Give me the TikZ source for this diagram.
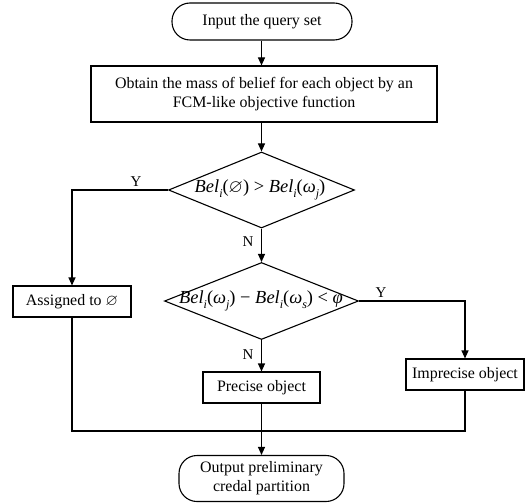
\documentclass[tikz,border=0pt]{standalone}
\usepackage{amssymb}
\usepackage{fontspec}
\setmainfont{Liberation Serif}
\usetikzlibrary{shapes.geometric,arrows.meta}
\newcommand{\mysub}[1]{\raisebox{-0.28em}{\fontsize{12}{12}\selectfont\textit{#1}}}
\newcommand{\mybel}[1]{\textit{Bel}\mysub{i}(#1)}
\newcommand{\myrel}[1]{\hspace{0.25em}#1\hspace{0.25em}}
\begin{document}
\begin{tikzpicture}[x=1bp,y=-1bp,
  line width=1.1bp,
  every node/.style={font=\fontsize{16}{19}\selectfont},
  term/.style={draw, rectangle, rounded corners=18bp, inner sep=0pt, align=center},
  proc/.style={draw, rectangle, inner sep=0pt, align=center},
  dec/.style={draw, diamond, inner sep=0pt},
  form/.style={font=\fontsize{18.5}{20}\selectfont, inner sep=0pt},
  arr/.style={-{Triangle[length=8bp,width=7bp]}},
  lab/.style={font=\fontsize{15}{17}\selectfont, inner sep=0pt}
]
\useasboundingbox (0,0) rectangle (531,504);

\node[term, minimum width=180bp, minimum height=37bp] (t1) at (262,21.5) {Input the query set};
\node[proc, minimum width=346bp, minimum height=56bp] (b1) at (264,94) {Obtain the mass of belief for each object by an\\FCM-like objective function};
\node[dec, minimum width=186bp, minimum height=76bp] (d1) at (261.5,190) {};
\node[form] (f1) at (260,190) {\mybel{$\varnothing$}\myrel{>}\mybel{\textit{ω}\mysub{j}}};
\node[proc, minimum width=118bp, minimum height=31bp] (a1) at (72,301.5) {Assigned to $\varnothing$};
\node[dec, minimum width=194bp, minimum height=77bp] (d2) at (261.5,301) {};
\node[form] (f2) at (261,301) {\mybel{\textit{ω}\mysub{j}}\myrel{−}\mybel{\textit{ω}\mysub{s}}\myrel{<}\textit{φ}};
\node[proc, minimum width=117bp, minimum height=31bp] (p1) at (261.5,387.5) {Precise object};
\node[proc, minimum width=118bp, minimum height=31bp] (i1) at (465,374.5) {Imprecise object};
\node[term, minimum width=165bp, minimum height=46bp] (t2) at (261.5,478.5) {Output preliminary\\credal partition};

\coordinate (c1) at (72,190);
\coordinate (c2) at (465,301);
\coordinate (c3) at (72,431);
\coordinate (c4) at (465,431);

\draw[arr] (d1.north |- t1.south) -- (d1.north |- b1.north);
\draw[arr] (d1.north |- b1.south) -- (d1.north);
\draw[arr] (d1.west) -- (c1) -- (a1.north);
\draw[arr] (d1.south) -- (d2.north);
\draw[arr] (d2.east) -- (c2) -- (i1.north);
\draw[arr] (d2.south) -- (p1.north);
\draw (a1.south) -- (c3) -- (c4) -- (i1.south);
\draw[arr] (p1.south) -- (t2.north);

\node[lab] (y1) at (136,182) {Y};
\node[lab] (n1) at (248,242) {N};
\node[lab] (y2) at (381,293) {Y};
\node[lab] (n2) at (248,355) {N};
\end{tikzpicture}
\end{document}
